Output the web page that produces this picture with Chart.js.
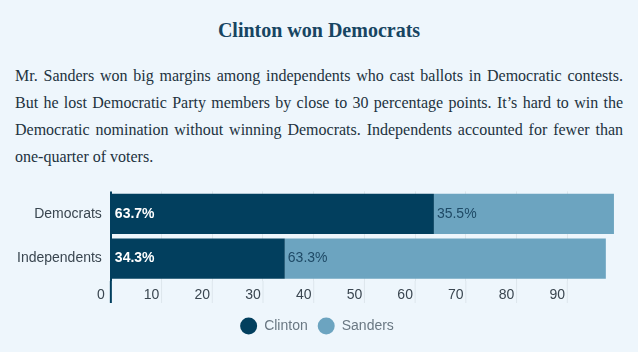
<!DOCTYPE html>
<html>
<head>
<meta charset="utf-8">
<script src="https://cdn.jsdelivr.net/npm/chart.js@4.4.0/dist/chart.umd.min.js"></script>
<style>
body { margin: 0; background: #eef6fc; width: 638px; height: 352px; overflow: hidden; position: relative; }
h2 { font-family: "Liberation Serif", "Times New Roman", serif; font-size: 20px; font-weight: bold; color: #174562; text-align: center; margin: 0; padding-top: 18px; line-height: 24px; }
p { font-family: "Liberation Serif", "Times New Roman", serif; font-size: 16px; line-height: 27px; color: #22323e; text-align: justify; margin: 20px 15px 0 15px; }
#wrap { position: absolute; left: 0; top: 182px; width: 638px; height: 170px; }
</style>
</head>
<body>
<h2>Clinton won Democrats</h2>
<p>Mr. Sanders won big margins among independents who cast ballots in Democratic contests. But he lost Democratic Party members by close to 30 percentage points. It’s hard to win the Democratic nomination without winning Democrats. Independents accounted for fewer than one-quarter of voters.</p>
<div id="wrap"><canvas id="voteChart"></canvas></div>
<script>
// data
const groups = ['Democrats', 'Independents'];
const clintonShare = [63.7, 34.3];
const sandersShare = [35.5, 63.3];
const xTickStep = 10;
const xMax = 100;

const clintonColor = '#023f5e';
const sandersColor = '#6ca4c0';
const gridColor = '#dde6ec';

// draws the "63.7%" labels at the start of each bar segment
const barLabels = {
    id: 'barLabels',
    afterDatasetsDraw(chart) {
        const ctx = chart.ctx;
        ctx.save();
        chart.data.datasets.forEach((ds, i) => {
            const meta = chart.getDatasetMeta(i);
            meta.data.forEach((bar, j) => {
                ctx.font = (i === 0 ? 'bold ' : '') + '14px "Liberation Sans", Arial, sans-serif';
                ctx.fillStyle = i === 0 ? '#ffffff' : '#1f4a66';
                ctx.textAlign = 'left';
                ctx.textBaseline = 'middle';
                ctx.fillText(ds.data[j].toFixed(1) + '%', Math.min(bar.base, bar.x) + 3, bar.y);
            });
        });
        ctx.restore();
    }
};

// gridlines run on down beside the tick labels
const tickMarks = {
    id: 'tickMarks',
    beforeDatasetsDraw(chart) {
        const ctx = chart.ctx;
        const x = chart.scales.x;
        const bottom = chart.chartArea.bottom;
        ctx.save();
        x.ticks.forEach(t => {
            if (t.value === xMax) return;
            const px = x.getPixelForValue(t.value);
            ctx.strokeStyle = t.value === 0 ? clintonColor : gridColor;
            ctx.lineWidth = t.value === 0 ? 2 : 1;
            ctx.beginPath();
            ctx.moveTo(px, bottom);
            ctx.lineTo(px, bottom + 22);
            ctx.stroke();
        });
        ctx.restore();
    }
};

const ctx = document.getElementById('voteChart').getContext('2d');
const voteChart = new Chart(ctx, {
    type: 'bar',
    data: {
        labels: groups,
        datasets: [{
            label: 'Clinton',
            data: clintonShare,
            backgroundColor: clintonColor,
            barPercentage: 0.9,
            categoryPercentage: 1
        }, {
            label: 'Sanders',
            data: sandersShare,
            backgroundColor: sandersColor,
            barPercentage: 0.9,
            categoryPercentage: 1
        }]
    },
    options: {
        indexAxis: 'y',
        responsive: true,
        maintainAspectRatio: false,
        animation: false,
        layout: { padding: { left: 16, right: 20, top: 0, bottom: 9 } },
        scales: {
            x: {
                stacked: true,
                min: 0,
                max: xMax,
                border: { display: false },
                grid: {
                    drawTicks: false,
                    color: c => c.tick.value === 0 ? clintonColor : (c.tick.value === xMax ? 'rgba(0,0,0,0)' : gridColor),
                    lineWidth: c => c.tick.value === 0 ? 2 : 1
                },
                ticks: {
                    stepSize: xTickStep,
                    callback: v => v === xMax ? '' : v,
                    align: 'center',
                    labelOffset: -10,
                    padding: 4,
                    color: '#3a4650',
                    font: { family: '"Liberation Sans", Arial, sans-serif', size: 14, lineHeight: 20 / 14 }
                }
            },
            y: {
                stacked: true,
                border: { display: false },
                grid: { display: false },
                ticks: {
                    padding: 1,
                    color: '#3a4650',
                    font: { family: '"Liberation Sans", Arial, sans-serif', size: 14 }
                }
            }
        },
        plugins: {
            legend: {
                position: 'bottom',
                labels: {
                    usePointStyle: true,
                    pointStyle: 'circle',
                    boxHeight: 12,
                    pointStyleWidth: 17,
                    padding: 10,
                    color: '#6a7883',
                    font: { family: '"Liberation Sans", Arial, sans-serif', size: 14 }
                }
            },
            tooltip: { enabled: false }
        }
    },
    plugins: [tickMarks, barLabels]
});
</script>
</body>
</html>
